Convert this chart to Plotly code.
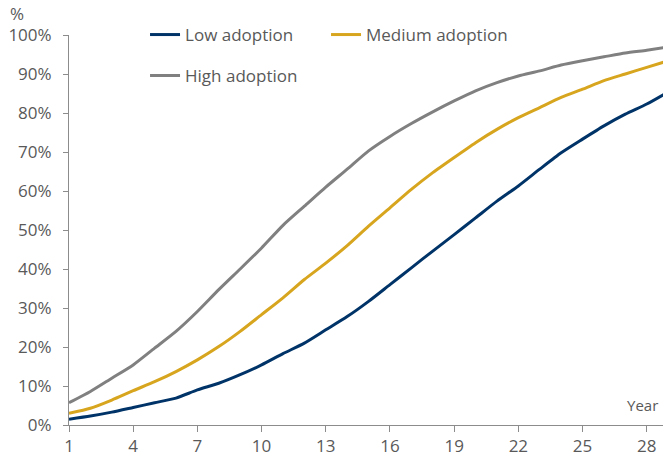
import plotly.graph_objects as go

years = list(range(1, 30))
low = [1.5, 2.3, 3.3, 4.5, 5.7, 6.9, 9.0, 10.7, 12.9, 15.4, 18.3, 21.0, 24.4, 27.8,
       31.7, 36.0, 40.3, 44.6, 48.8, 53.1, 57.4, 61.3, 65.6, 69.8, 73.3, 76.7, 79.7, 82.3, 85.4]
medium = [3.0, 4.3, 6.4, 8.8, 11.1, 13.7, 16.7, 20.1, 24.0, 28.3, 32.6, 37.3, 41.5, 46.0,
          51.0, 55.7, 60.4, 64.7, 68.6, 72.4, 75.8, 78.8, 81.4, 84.0, 86.1, 88.3, 90.0, 91.7, 93.4]
high = [5.7, 8.6, 12.0, 15.4, 19.7, 24.0, 29.1, 34.7, 40.0, 45.4, 51.2, 56.1, 61.0, 65.6,
        70.3, 74.0, 77.3, 80.3, 83.1, 85.7, 87.8, 89.5, 90.8, 92.3, 93.4, 94.4, 95.4, 96.1, 96.9]

x_ticks = [1, 4, 7, 10, 13, 16, 19, 22, 25, 28]
y_ticks = [0, 10, 20, 30, 40, 50, 60, 70, 80, 90, 100]
y_tick_labels = ["0%", "10%", "20%", "30%", "40%", "50%", "60%", "70%", "80%", "90%", "100%"]

NAVY = "#003468"
GOLD = "#D7A51E"
GREY = "#808080"
TEXT = "#595959"
AXIS = "#8C8C8C"
FONT = "Open Sans"
FS = 17

fig = go.Figure()
fig.add_trace(go.Scatter(x=years, y=low, name="Low adoption", mode="lines",
                         line=dict(color=NAVY, width=3, shape="spline", smoothing=0.6),
                         legend="legend"))
fig.add_trace(go.Scatter(x=years, y=medium, name="Medium adoption", mode="lines",
                         line=dict(color=GOLD, width=3, shape="spline", smoothing=0.6),
                         legend="legend"))
fig.add_trace(go.Scatter(x=years, y=high, name="High adoption", mode="lines",
                         line=dict(color=GREY, width=3, shape="spline", smoothing=0.6),
                         legend="legend2"))

legend_common = dict(orientation="h", xanchor="left", yanchor="middle",
                     font=dict(family=FONT, size=FS, color=TEXT),
                     bgcolor="rgba(0,0,0,0)", itemwidth=30, tracegroupgap=0,
                     itemclick=False, itemdoubleclick=False)

fig.update_layout(
    width=663, height=464,
    margin=dict(l=69, r=0, t=35, b=39),
    paper_bgcolor="white", plot_bgcolor="white",
    font=dict(family=FONT, size=FS, color=TEXT),
    showlegend=True,
    legend=dict(x=0.128, y=1.0, entrywidth=136, **legend_common),
    legend2=dict(x=0.128, y=0.895, **legend_common),
    xaxis=dict(range=[1, 28.76], tickvals=x_ticks, ticks="outside", ticklen=6,
               tickcolor=AXIS, showline=True, linecolor=AXIS, linewidth=1,
               showgrid=False, zeroline=False,
               tickfont=dict(family=FONT, size=FS, color=TEXT)),
    yaxis=dict(range=[0, 100], tickmode="array", tickvals=y_ticks, ticktext=y_tick_labels,
               ticks="outside", ticklen=5, tickcolor=AXIS, showline=True,
               linecolor=AXIS, linewidth=1, showgrid=False, zeroline=False,
               ticklabelstandoff=8,
               tickfont=dict(family=FONT, size=FS, color=TEXT)),
    annotations=[
        dict(text="%", xref="paper", yref="paper", x=-0.103, y=1.02, xanchor="left",
             yanchor="bottom", showarrow=False,
             font=dict(family=FONT, size=FS, color=TEXT)),
        dict(text="Year", xref="paper", yref="paper", x=0.995, y=0.02, xanchor="right",
             yanchor="bottom", showarrow=False,
             font=dict(family=FONT, size=15, color=TEXT)),
    ],
)

fig.write_html("out.html")
